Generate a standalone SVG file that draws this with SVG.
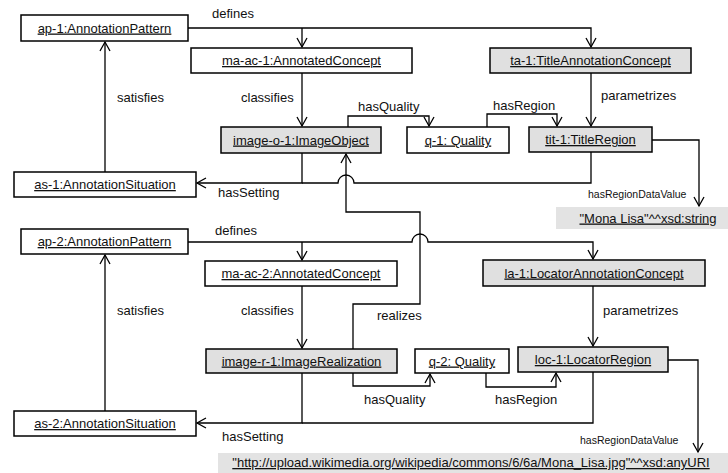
<svg xmlns="http://www.w3.org/2000/svg" width="728" height="473" viewBox="0 0 728 473">
<defs>
<marker id="arr" viewBox="-10 -6 12 12" markerWidth="12" markerHeight="12" refX="0" refY="0" orient="auto" markerUnits="userSpaceOnUse">
<path d="M-9,-5 L0,0 L-9,5" fill="none" stroke="#000" stroke-width="1.3"/>
</marker>
</defs>
<style>
.n{stroke:#000;stroke-width:1.5;fill:#fff}
.g{stroke:#000;stroke-width:1.5;fill:#e0e0e0}
.lit{fill:#e3e3e3;stroke:none}
.t{font-family:"Liberation Sans",Arial,sans-serif;font-size:13px;fill:#111;text-anchor:middle;text-decoration:underline}
.l{font-family:"Liberation Sans",Arial,sans-serif;font-size:13px;fill:#111}
.s{font-family:"Liberation Sans",Arial,sans-serif;font-size:10.5px;fill:#111}
.e{fill:none;stroke:#000;stroke-width:1.3}
</style>
<rect width="728" height="473" fill="#fff"/>
<g id="connectors">
<path class="e" d="M188,28 H591 V47" marker-end="url(#arr)"/>
<path class="e" d="M302,28 V47" marker-end="url(#arr)"/>
<path class="e" d="M105,172 V42" marker-end="url(#arr)"/>
<path class="e" d="M302,73 V126" marker-end="url(#arr)"/>
<path class="e" d="M591,73 V126" marker-end="url(#arr)"/>
<path class="e" d="M348,127 V116 H429 V126" marker-end="url(#arr)"/>
<path class="e" d="M487,127 V114 H557 V126" marker-end="url(#arr)"/>
<path class="e" d="M302,153 V183 H197" marker-end="url(#arr)"/>
<path class="e" d="M591,152 V183 H354 A8,8 0 0 0 338,183 H302"/>
<path class="e" d="M652,140 H699 V206" marker-end="url(#arr)"/>
<path class="e" d="M353,349 V304 H420 V212 H346 V154" marker-end="url(#arr)"/>
<path class="e" d="M188,242 H412 A8,8 0 0 1 428,242 H593 V259" marker-end="url(#arr)"/>
<path class="e" d="M302,242 V260" marker-end="url(#arr)"/>
<path class="e" d="M105,411 V255" marker-end="url(#arr)"/>
<path class="e" d="M302,286 V348" marker-end="url(#arr)"/>
<path class="e" d="M593,286 V346" marker-end="url(#arr)"/>
<path class="e" d="M353,373 V386 H430 V374" marker-end="url(#arr)"/>
<path class="e" d="M486,373 V387 H556 V373" marker-end="url(#arr)"/>
<path class="e" d="M302,373 V423 H197" marker-end="url(#arr)"/>
<path class="e" d="M593,372 V423 H302"/>
<path class="e" d="M668,360 H698 V452" marker-end="url(#arr)"/>
<text class="l" x="212" y="18">defines</text>
<text class="l" x="117" y="102">satisfies</text>
<text class="l" x="241" y="102">classifies</text>
<text class="l" x="601" y="100">parametrizes</text>
<text class="l" x="358" y="111">hasQuality</text>
<text class="l" x="493" y="110">hasRegion</text>
<text class="l" x="218" y="197">hasSetting</text>
<text class="s" x="588" y="198">hasRegionDataValue</text>
<text class="l" x="377" y="320">realizes</text>
<text class="l" x="215" y="235">defines</text>
<text class="l" x="117" y="315">satisfies</text>
<text class="l" x="241" y="315">classifies</text>
<text class="l" x="603" y="315">parametrizes</text>
<text class="l" x="364" y="404">hasQuality</text>
<text class="l" x="495" y="404">hasRegion</text>
<text class="l" x="222" y="441">hasSetting</text>
<text class="s" x="580" y="444">hasRegionDataValue</text>
</g>
<g id="ap-1"><rect class="n" x="21" y="15" width="167" height="26"/><text class="t" x="104.5" y="32.5">ap-1:AnnotationPattern</text></g>
<g id="ma-ac-1"><rect class="n" x="191" y="48" width="221" height="25"/><text class="t" x="301.5" y="65">ma-ac-1:AnnotatedConcept</text></g>
<g id="ta-1"><rect class="g" x="490" y="48" width="201" height="25"/><text class="t" x="590.5" y="65">ta-1:TitleAnnotationConcept</text></g>
<g id="image-o-1"><rect class="g" x="221" y="127" width="160" height="26"/><text class="t" x="301" y="144.5">image-o-1:ImageObject</text></g>
<g id="q-1"><rect class="n" x="407" y="127" width="102" height="26"/><text class="t" x="458" y="144.5">q-1: Quality</text></g>
<g id="tit-1"><rect class="g" x="529" y="127" width="123" height="25"/><text class="t" x="590.5" y="144">tit-1:TitleRegion</text></g>
<g id="as-1"><rect class="n" x="14" y="172" width="182" height="25"/><text class="t" x="105" y="189">as-1:AnnotationSituation</text></g>
<g id="mona-lisa"><rect class="lit" x="556" y="207" width="172" height="22"/><text class="t" x="648" y="222.5">"Mona Lisa"^^xsd:string</text></g>
<g id="ap-2"><rect class="n" x="21" y="229" width="167" height="25"/><text class="t" x="104.5" y="246">ap-2:AnnotationPattern</text></g>
<g id="ma-ac-2"><rect class="n" x="205" y="261" width="192" height="25"/><text class="t" x="301" y="278">ma-ac-2:AnnotatedConcept</text></g>
<g id="la-1"><rect class="g" x="483" y="260" width="222" height="26"/><text class="t" x="594" y="277.5">la-1:LocatorAnnotationConcept</text></g>
<g id="image-r-1"><rect class="g" x="206" y="349" width="191" height="24"/><text class="t" x="301.5" y="365.5">image-r-1:ImageRealization</text></g>
<g id="q-2"><rect class="n" x="415" y="349" width="94" height="24"/><text class="t" x="462" y="365.5">q-2: Quality</text></g>
<g id="loc-1"><rect class="g" x="518" y="347" width="150" height="25"/><text class="t" x="593" y="364">loc-1:LocatorRegion</text></g>
<g id="as-2"><rect class="n" x="14" y="411" width="182" height="25"/><text class="t" x="105" y="428">as-2:AnnotationSituation</text></g>
<g id="url"><rect class="lit" x="218" y="453" width="510" height="20"/><text class="t" x="471" y="467">"http://upload.wikimedia.org/wikipedia/commons/6/6a/Mona_Lisa.jpg"^^xsd:anyURI</text></g>
</svg>
